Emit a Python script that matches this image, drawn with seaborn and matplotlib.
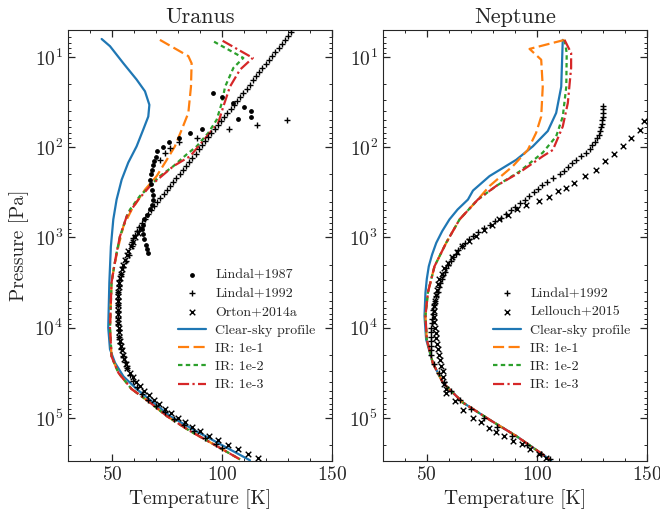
import numpy as np
import seaborn as sns
import matplotlib
matplotlib.use("Agg")
import matplotlib.pyplot as plt

# ---------------- Uranus ----------------
# model profiles: temperature [K] and log10 pressure [Pa]
ura_clear_t = [45.3, 49.1, 55.2, 61.2, 65.0, 67.0, 66.5, 64.2, 61.2, 57.4, 54.4, 52.1, 50.6, 49.5,
               48.8, 48.3, 49.1, 51.4, 55.2, 61.2, 68.8, 76.4, 87.0, 97.6, 112.7]
ura_clear_logp = [0.80, 0.88, 1.07, 1.25, 1.38, 1.53, 1.66, 1.805, 1.99, 2.17, 2.36, 2.58, 2.80, 3.10,
                  3.50, 4.00, 4.24, 4.39, 4.54, 4.68, 4.83, 4.98, 5.13, 5.27, 5.47]

ura_ir1_t = [71.8, 84.7, 86.2, 85.9, 84.7, 81.7, 78.6, 74.9, 70.3, 65.0, 59.0, 55.2, 52.9, 51.0,
             49.8, 49.1, 49.8, 52.9, 58.9, 67.3, 74.9, 85.5, 96.0, 108.2]
ura_ir1_logp = [0.81, 0.99, 1.07, 1.33, 1.62, 1.805, 1.99, 2.14, 2.32, 2.47, 2.69, 2.875, 3.10, 3.32,
                3.50, 4.00, 4.32, 4.50, 4.68, 4.83, 4.98, 5.146, 5.29, 5.46]

ura_ir2_t = [96.4, 109.7, 105.2, 101.4, 99.9, 97.6, 93.8, 88.5, 83.9, 77.9, 71.8, 67.3, 62.7, 58.2,
             56.7, 53.6, 52.1, 51.0, 49.8, 49.1, 49.8, 52.9, 58.9, 67.3, 74.9, 85.5, 96.0, 108.2]
ura_ir2_logp = [0.83, 1.01, 1.12, 1.33, 1.51, 1.695, 1.84, 1.99, 2.08, 2.21, 2.32, 2.43, 2.54, 2.69,
                2.765, 2.99, 3.17, 3.32, 3.50, 4.00, 4.32, 4.50, 4.68, 4.83, 4.98, 5.146, 5.29, 5.46]

ura_ir3_t = [100.3, 114.0, 108.2, 103.6, 100.6, 98.3, 94.5, 90.0, 85.5, 77.9, 67.3, 62.0, 56.7, 53.6,
             52.1, 51.0, 49.8, 49.1, 49.8, 52.9, 58.9, 67.3, 74.9, 85.5, 96.0, 108.2]
ura_ir3_logp = [0.82, 1.01, 1.14, 1.33, 1.55, 1.73, 1.84, 1.97, 2.10, 2.21, 2.43, 2.58, 2.765, 2.99,
                3.17, 3.32, 3.50, 4.00, 4.32, 4.50, 4.68, 4.83, 4.98, 5.146, 5.29, 5.46]

# observations
ura_l87_t = [95.8, 99.8, 105.2, 110.1, 113.2, 113.2, 107.1, 90.8, 85.5, 80.5, 75.9, 73.0, 70.3, 70.0,
             69.1, 68.5, 68.0, 67.6, 67.3, 67.6, 68.0, 68.5, 68.5, 68.0, 67.3, 65.8, 64.5, 64.0, 63.5,
             64.0, 64.5, 65.5, 66.0, 66.5]
ura_l87_logp = [1.40, 1.44, 1.51, 1.55, 1.60, 1.66, 1.69, 1.80, 1.84, 1.90, 1.946, 2.00, 2.045, 2.11,
                2.156, 2.20, 2.25, 2.30, 2.36, 2.41, 2.47, 2.525, 2.58, 2.635, 2.69, 2.746, 2.80, 2.857,
                2.91, 2.96, 3.02, 3.08, 3.13, 3.17]

ura_l92_t = [131.5, 130.0, 128.6, 127.1, 125.7, 124.2, 122.8, 121.3, 119.9, 118.4, 117.0, 115.5, 114.1,
             112.6, 111.2, 109.7, 108.3, 106.8, 105.4, 103.9, 102.5, 101.0, 99.6, 98.1, 96.7, 95.2, 93.8,
             92.3, 90.9, 89.4, 88.0, 86.5, 85.1, 83.6, 82.2, 80.7, 79.3, 77.8, 76.4, 74.9, 73.5, 72.0,
             70.6, 69.2, 67.8, 66.4, 65.0, 63.7, 62.4, 61.3, 60.3, 59.7, 59.2, 58.9,
             57.8, 56.3, 55.0, 54.0, 53.4, 53.0, 52.8, 52.7, 52.7, 52.7, 52.8, 52.9, 53.1, 53.4, 53.8,
             54.3, 55.0, 55.8, 56.8, 58.0, 59.5, 61.3, 63.6, 66.5, 70.0, 74.0, 78.3, 82.8, 87.5, 92.3,
             97.3, 100.2,
             129.5, 116.0, 103.3, 88.5, 80.6, 76.4, 74.1, 71.8]
ura_l92_logp = [0.72, 0.765, 0.81, 0.855, 0.90, 0.945, 0.99, 1.035, 1.08, 1.125, 1.17, 1.215, 1.26,
                1.305, 1.35, 1.395, 1.44, 1.485, 1.53, 1.575, 1.62, 1.665, 1.71, 1.755, 1.80, 1.845, 1.89,
                1.935, 1.98, 2.025, 2.07, 2.115, 2.16, 2.205, 2.25, 2.295, 2.34, 2.385, 2.43, 2.475, 2.52,
                2.565, 2.61, 2.655, 2.70, 2.745, 2.79, 2.835, 2.88, 2.925, 2.97, 3.01, 3.05, 3.09,
                3.19, 3.26, 3.33, 3.40, 3.47, 3.54, 3.61, 3.68, 3.75, 3.82, 3.89, 3.96, 4.03, 4.10, 4.17,
                4.24, 4.31, 4.38, 4.45, 4.52, 4.59, 4.66, 4.73, 4.80, 4.87, 4.94, 5.01, 5.08, 5.15, 5.22,
                5.29, 5.33,
                1.695, 1.75, 1.80, 1.90, 1.945, 2.01, 2.06, 2.14]

ura_o14_t = [63.0, 61.8, 60.6, 59.5, 58.5, 57.5, 56.6, 55.8, 55.1, 54.5, 54.0, 53.6, 53.3, 53.1, 52.9,
             52.8, 52.7, 52.7, 52.7, 52.7, 52.8, 52.9, 53.0, 53.2, 53.4, 53.7, 54.0, 54.4, 54.9, 55.5,
             56.2, 57.0, 58.2, 59.5, 61.0, 62.7, 64.6, 66.7, 69.0, 71.5, 74.1, 76.9, 79.9, 83.1, 86.5,
             90.2, 94.3, 98.4, 102.8, 107.3, 112.0, 116.3]
ura_o14_logp = [2.90, 2.95, 3.00, 3.05, 3.10, 3.15, 3.20, 3.25, 3.30, 3.35, 3.40, 3.45, 3.50, 3.55,
                3.60, 3.65, 3.70, 3.75, 3.80, 3.85, 3.90, 3.95, 4.00, 4.05, 4.10, 4.15, 4.20, 4.25,
                4.30, 4.35, 4.40, 4.45, 4.50, 4.55, 4.60, 4.65, 4.70, 4.75, 4.80, 4.85, 4.90, 4.95,
                5.00, 5.05, 5.10, 5.15, 5.20, 5.25, 5.30, 5.35, 5.40, 5.44]

# ---------------- Neptune ----------------
nep_clear_t = [111.8, 111.1, 108.8, 105.0, 98.2, 90.6, 78.5, 71.0, 68.7, 64.0, 60.3, 57.0, 54.3, 52.4,
               50.9, 50.0, 49.4, 48.95, 49.7, 52.7, 57.3, 66.4, 78.5, 90.6, 106.5]
nep_clear_logp = [0.81, 1.33, 1.62, 1.82, 1.99, 2.14, 2.32, 2.48, 2.58, 2.69, 2.80, 2.93, 3.06, 3.19,
                  3.32, 3.46, 3.61, 3.87, 4.13, 4.39, 4.61, 4.83, 5.02, 5.20, 5.47]

nep_ir1_t = [112.6, 96.7, 102.0, 102.7, 102.0, 99.7, 95.9, 89.1, 78.5, 73.2, 64.9, 58.8, 53.5, 50.5,
             49.4, 50.0, 52.7, 57.3, 66.4, 78.5, 90.6, 106.5]
nep_ir1_logp = [0.81, 0.91, 1.03, 1.33, 1.66, 1.84, 2.03, 2.21, 2.43, 2.58, 2.80, 3.06, 3.32, 3.61,
                3.87, 4.13, 4.39, 4.61, 4.83, 5.02, 5.20, 5.47]

nep_ir2_t = [112.6, 113.6, 113.4, 111.8, 108.8, 102.7, 92.1, 81.5, 73.2, 64.9, 58.8, 53.5, 50.5,
             49.4, 50.0, 52.7, 57.3, 66.4, 78.5, 90.6, 106.5]
nep_ir2_logp = [0.81, 0.955, 1.33, 1.66, 1.88, 2.06, 2.27, 2.43, 2.58, 2.80, 3.06, 3.32, 3.61,
                3.87, 4.13, 4.39, 4.61, 4.83, 5.02, 5.20, 5.47]

nep_ir3_t = [112.6, 115.6, 115.6, 114.1, 111.8, 107.3, 102.7, 92.1, 81.5, 73.2, 64.9, 58.8, 53.5,
             50.5, 49.4, 50.0, 52.7, 57.3, 66.4, 78.5, 90.6, 106.5]
nep_ir3_logp = [0.81, 0.955, 1.12, 1.51, 1.77, 2.03, 2.10, 2.28, 2.43, 2.58, 2.80, 3.06, 3.32,
                3.61, 3.87, 4.13, 4.39, 4.61, 4.83, 5.02, 5.20, 5.47]

nep_l92_t = [130.3, 130.2, 130.1, 130.0, 129.8, 129.6, 129.3, 128.8, 128.1, 127.3, 126.3, 125.2, 124.0,
             122.3, 120.2, 118.0, 116.0, 114.2, 112.4, 110.5, 107.5, 104.5, 102.3, 100.4, 98.5, 96.6,
             94.6, 92.5, 90.3, 88.1, 85.9, 83.6, 81.2, 78.7, 76.0, 73.4, 71.0, 69.0, 67.3, 65.8, 64.4,
             63.1, 61.9, 60.8, 59.8, 58.9, 58.1, 57.4, 56.8, 56.2, 55.6, 55.0, 54.4, 53.9, 53.4, 53.0,
             52.7, 52.4, 52.2, 52.0, 51.9, 51.8, 51.8, 51.8, 51.9, 52.0, 53.5, 55.5, 57.8, 61.0, 65.0,
             70.0, 76.0, 82.0, 88.5, 95.5, 102.0, 106.0]
nep_l92_logp = [1.54, 1.58, 1.62, 1.66, 1.70, 1.74, 1.78, 1.82, 1.86, 1.90, 1.94, 1.98, 2.02, 2.06,
                2.10, 2.14, 2.18, 2.22, 2.26, 2.30, 2.34, 2.38, 2.42, 2.46, 2.50, 2.54, 2.58, 2.62, 2.66,
                2.70, 2.74, 2.78, 2.82, 2.86, 2.90, 2.94, 2.98, 3.02, 3.06, 3.10, 3.14, 3.18, 3.22, 3.26,
                3.30, 3.34, 3.38, 3.42, 3.46, 3.50, 3.55, 3.60, 3.65, 3.70, 3.75, 3.80, 3.85, 3.90, 3.95,
                4.00, 4.05, 4.10, 4.15, 4.20, 4.25, 4.30, 4.40, 4.50, 4.60, 4.70, 4.80, 4.90, 5.00, 5.10,
                5.20, 5.30, 5.40, 5.46]

nep_le15_t = [148.9, 146.7, 142.9, 139.1, 135.3, 131.2, 127.0, 122.1, 116.8, 113.4, 109.5, 105.5, 100.9,
              95.2, 90.9, 86.8, 83.0, 79.5, 76.0, 72.5, 69.0, 66.0, 63.5, 61.3, 59.5, 58.0, 56.7, 55.7,
              55.0, 54.5, 54.0, 53.7, 53.5, 53.4, 53.4, 53.5, 53.7, 54.0, 54.4, 54.7, 55.0, 55.5, 56.0,
              56.5, 57.2, 57.3, 58.0, 58.5, 58.8, 62.6, 66.4, 70.9, 74.7, 78.2, 81.5, 85.3, 89.1, 93.4,
              96.7, 101.2, 104.3]
nep_le15_logp = [1.71, 1.805, 1.90, 1.99, 2.08, 2.156, 2.25, 2.32, 2.40, 2.45, 2.49, 2.55, 2.60, 2.635,
                 2.69, 2.75, 2.80, 2.86, 2.92, 2.98, 3.04, 3.10, 3.16, 3.22, 3.28, 3.34, 3.40, 3.46, 3.52,
                 3.58, 3.64, 3.70, 3.76, 3.82, 3.88, 3.94, 4.00, 4.06, 4.12, 4.18, 4.24, 4.30, 4.36, 4.42,
                 4.48, 4.55, 4.62, 4.68, 4.72, 4.81, 4.91, 5.00, 5.05, 5.11, 5.157, 5.20, 5.257, 5.29,
                 5.35, 5.40, 5.44]

model_labels = ['Clear-sky profile', 'IR: 1e-1', 'IR: 1e-2', 'IR: 1e-3']


def pa(logp):
    return 10 ** np.array(logp)


sns.set_style("ticks")
plt.rcParams['font.family'] = 'serif'
plt.rcParams['font.serif'] = ['cmr10', 'DejaVu Serif']
plt.rcParams['mathtext.fontset'] = 'cm'
plt.rcParams['axes.formatter.use_mathtext'] = True
plt.rcParams['axes.unicode_minus'] = False

fig = plt.figure(figsize=(6.6, 5.15), dpi=100)
ax1 = fig.add_axes([0.103, 0.105, 0.400, 0.837])
ax2 = fig.add_axes([0.580, 0.105, 0.400, 0.837])

colors = sns.color_palette("tab10")
styles = [(None, '-'), ((5, 2), '--'), ((2, 1.5), ':'), ((5, 1.5, 1, 1.5), '-.')]


def draw_models(ax, curves):
    for (t, lp), lab, col, (dash, ls) in zip(curves, model_labels, colors, styles):
        line = sns.lineplot(x=t, y=pa(lp), sort=False, estimator=None, color=col,
                            lw=1.6, label=lab, ax=ax).lines[-1]
        if dash is not None:
            line.set_dashes(dash)


def draw_obs(ax, t, lp, marker, lab, size):
    sns.scatterplot(x=t, y=pa(lp), marker=marker, color='black', s=size, linewidth=1.0,
                    edgecolor='black', label=lab, ax=ax, zorder=3)


# Uranus
draw_obs(ax1, ura_l87_t, ura_l87_logp, '.', 'Lindal+1987', 24)
draw_obs(ax1, ura_l92_t, ura_l92_logp, '+', 'Lindal+1992', 25)
draw_obs(ax1, ura_o14_t, ura_o14_logp, 'x', 'Orton+2014a', 16)
draw_models(ax1, [(ura_clear_t, ura_clear_logp), (ura_ir1_t, ura_ir1_logp),
                  (ura_ir2_t, ura_ir2_logp), (ura_ir3_t, ura_ir3_logp)])

# Neptune
draw_obs(ax2, nep_l92_t, nep_l92_logp, '+', 'Lindal+1992', 25)
draw_obs(ax2, nep_le15_t, nep_le15_logp, 'x', 'Lellouch+2015', 16)
draw_models(ax2, [(nep_clear_t, nep_clear_logp), (nep_ir1_t, nep_ir1_logp),
                  (nep_ir2_t, nep_ir2_logp), (nep_ir3_t, nep_ir3_logp)])

for ax, title in [(ax1, 'Uranus'), (ax2, 'Neptune')]:
    ax.set_yscale('log')
    ax.set_ylim(3.0e5, 5.0)
    ax.set_xlim(30, 150)
    ax.set_xticks([50, 100, 150])
    ax.set_xticks(np.arange(30, 151, 10), minor=True)
    ax.tick_params(which='both', direction='in', top=True, right=True, labelsize=14)
    ax.tick_params(which='major', length=5, width=0.9)
    ax.tick_params(which='minor', length=2.5, width=0.7)
    ax.set_title(title, fontsize=16, pad=5)
    ax.set_xlabel('Temperature [K]', fontsize=14)
    ax.set_ylabel('')
    ax.legend(loc='lower right', bbox_to_anchor=(0.97, 0.142), frameon=False, fontsize=10,
              handlelength=2.0, handletextpad=0.7, labelspacing=0.4, borderaxespad=0.2)

ax1.set_ylabel('Pressure [Pa]', fontsize=14)

fig.savefig('out.png', dpi=100)
